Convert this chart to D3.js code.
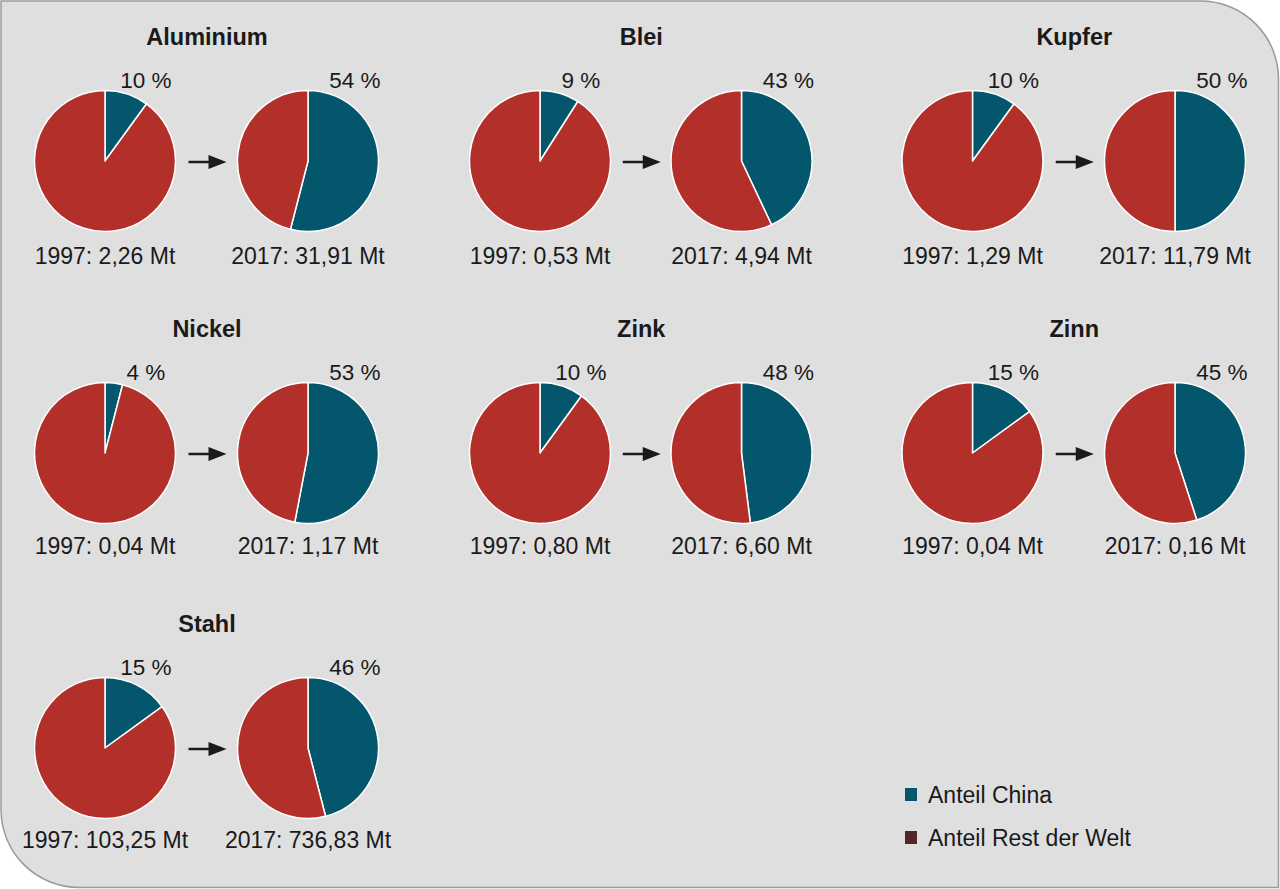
<!DOCTYPE html>
<html><head><meta charset="utf-8">
<script src="https://cdn.jsdelivr.net/npm/d3@7"></script>
<style>
html,body{margin:0;padding:0;background:#fff;}
svg{display:block;font-family:"Liberation Sans",Arial,sans-serif;}
</style></head>
<body>
<svg id="chart" width="1280" height="889"></svg>
<script>
// ---- data ----
const metals = ["Aluminium","Blei","Kupfer","Nickel","Zink","Zinn","Stahl"];
const chinaShare1997 = [10, 9, 10, 4, 10, 15, 15];
const chinaShare2017 = [54, 43, 50, 53, 48, 45, 46];
const total1997 = ["2,26","0,53","1,29","0,04","0,80","0,04","103,25"];
const total2017 = ["31,91","4,94","11,79","1,17","6,60","0,16","736,83"];
const years = ["1997","2017"];
const legendLabels = ["Anteil China","Anteil Rest der Welt"];

// ---- styling / layout ----
const W = 1280, H = 889;
const colChina = "#03566b", colRest = "#b3302a", colRestLegend = "#4f2725";
const bg = "#dfdfdf";
const svg = d3.select("#chart");

// background shape: rounded top-right and bottom-left corners
const R = 78, x0 = 1, y0 = 1, x1 = W - 1.5, y1 = H - 1.5;
const p = d3.path();
p.moveTo(x0, y0);
p.lineTo(x1 - R, y0);
p.arcTo(x1, y0, x1, y0 + R, R);
p.lineTo(x1, y1);
p.lineTo(x0 + R, y1);
p.arcTo(x0, y1, x0, y1 - R, R);
p.closePath();
svg.append("path").attr("d", p.toString()).attr("fill", bg)
  .attr("stroke", "#9a9a9a").attr("stroke-width", 1.5);

const pie1X = [105, 540, 972.5];
const pie2X = [308, 741.5, 1175];
const rowY = [161, 453, 748];
const labelDy = [103, 101, 100];
const r = 70.5;

const pieGen = d3.pie().sort(null).value(d => d);
const arc = d3.arc().innerRadius(0).outerRadius(r);
const colorScale = d3.scaleOrdinal().domain([0, 1]).range([colChina, colRest]);

metals.forEach((m, i) => {
  const col = i % 3, row = Math.floor(i / 3);
  const cy = rowY[row];
  const cxs = [pie1X[col], pie2X[col]];
  const shares = [chinaShare1997[i], chinaShare2017[i]];
  const totals = [total1997[i], total2017[i]];
  const mid = (cxs[0] + cxs[1]) / 2;

  svg.append("text").attr("x", mid + 0.5).attr("y", cy - 116)
    .attr("text-anchor", "middle").attr("font-weight", "bold")
    .attr("font-size", 23.5).attr("fill", "#1a1a1a").text(m);

  cxs.forEach((cx, k) => {
    const g = svg.append("g").attr("transform", `translate(${cx},${cy})`);
    g.selectAll("path").data(pieGen([shares[k], 100 - shares[k]]))
      .join("path").attr("d", arc)
      .attr("fill", (d, j) => colorScale(j))
      .attr("stroke", "#fff").attr("stroke-width", 1.5)
      .attr("stroke-linejoin", "round");

    svg.append("text").attr("x", cx + (k === 0 ? 41 : 47)).attr("y", cy - 73)
      .attr("text-anchor", "middle").attr("font-size", 22.5).attr("fill", "#1a1a1a")
      .text(shares[k] + " %");

    svg.append("text").attr("x", cx).attr("y", cy + labelDy[row])
      .attr("text-anchor", "middle").attr("font-size", 23).attr("fill", "#1a1a1a")
      .text(`${years[k]}: ${totals[k]} Mt`);
  });

  // arrow
  const ag = svg.append("g").attr("transform", `translate(${mid},${cy + 1})`);
  ag.append("line").attr("x1", -18).attr("x2", 4).attr("y1", 0).attr("y2", 0)
    .attr("stroke", "#1a1a1a").attr("stroke-width", 2.5);
  ag.append("path").attr("d", "M2,-7 L20,0 L2,7 Z").attr("fill", "#1a1a1a");
});

// legend
const legendColors = [colChina, colRestLegend];
const ly = [795, 838];
legendLabels.forEach((t, i) => {
  svg.append("rect").attr("x", 905).attr("y", ly[i] - 7).attr("width", 12).attr("height", 13)
    .attr("fill", legendColors[i]);
  svg.append("text").attr("x", 928).attr("y", ly[i] + 8).attr("font-size", 23)
    .attr("fill", "#1a1a1a").text(t);
});
</script>
</body></html>
